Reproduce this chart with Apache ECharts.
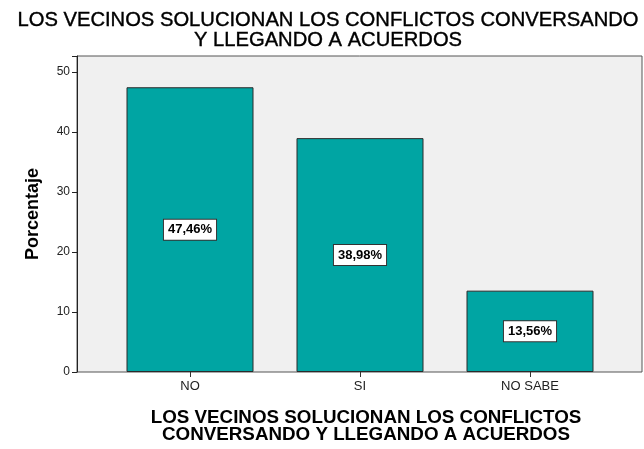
<!DOCTYPE html>
<html>
<head>
<meta charset="utf-8">
<script src="https://cdn.jsdelivr.net/npm/echarts@6/dist/echarts.min.js"></script>
<style>
  html, body { margin: 0; padding: 0; background: #fff; }
  #chart { width: 644px; height: 449px; }
</style>
</head>
<body>
<div id="chart"></div>
<script>
// categories and percentages
const categories = ['NO', 'SI', 'NO SABE']
const percentages = [47.46, 38.98, 13.56]
const yTicks = [0, 10, 20, 30, 40, 50]

const chartTitle = 'LOS VECINOS SOLUCIONAN LOS CONFLICTOS CONVERSANDO\nY LLEGANDO A ACUERDOS'
const xTitle = 'LOS VECINOS SOLUCIONAN LOS CONFLICTOS\nCONVERSANDO Y LLEGANDO A ACUERDOS'
const yTitle = 'Porcentaje'

const font = '"Liberation Sans", Arial, sans-serif'
const yMax = 52.67

const chart = echarts.init(document.getElementById('chart'))

chart.setOption({
  animation: false,
  title: [
    {
      text: chartTitle,
      left: 323,
      top: 5,
      textAlign: 'center',
      textStyle: { fontFamily: font, fontSize: 20.2, fontWeight: 'normal', color: '#000', lineHeight: 20, textBorderColor: '#000', textBorderWidth: 0.4 },
    },
    {
      text: xTitle,
      left: 361,
      top: 404,
      textAlign: 'center',
      textStyle: { fontFamily: font, fontSize: 18.8, fontWeight: 'bold', color: '#000', lineHeight: 17 },
    },
  ],
  grid: [
    // plot frame with background
    {
      left: 77, right: 2, top: 56, bottom: 77,
      show: true,
      backgroundColor: '#f0f0f0',
      borderColor: '#555',
      borderWidth: 1,
    },
    // bar area
    { left: 105, right: 29, top: 56, bottom: 77 },
  ],
  xAxis: [
    {
      gridIndex: 0,
      type: 'value',
      show: false,
    },
    {
      gridIndex: 1,
      type: 'category',
      data: categories,
      axisLine: { show: false },
      axisTick: { show: true, alignWithLabel: true, length: 5, lineStyle: { color: '#333' } },
      axisLabel: { fontFamily: font, fontSize: 13, color: '#222', margin: 8 },
    },
  ],
  yAxis: [
    {
      gridIndex: 0,
      type: 'value',
      min: 0,
      max: yMax,
      interval: 10,
      axisLine: { show: true, lineStyle: { color: '#222' } },
      axisTick: { show: true, length: 5, lineStyle: { color: '#222' } },
      axisLabel: {
        fontFamily: font, fontSize: 12, color: '#222', margin: 7,
        formatter: (v) => (yTicks.includes(v) ? String(v) : ''),
      },
      splitLine: { show: false },
      name: yTitle,
      nameLocation: 'middle',
      nameGap: 35,
      nameTextStyle: { fontFamily: font, fontSize: 18, fontWeight: 'bold', color: '#000' },
    },
    {
      gridIndex: 1,
      type: 'value',
      min: 0,
      max: yMax,
      show: false,
    },
  ],
  series: [
    {
      type: 'bar',
      xAxisIndex: 1,
      yAxisIndex: 1,
      data: percentages,
      barWidth: 127,
      itemStyle: { color: '#00a5a3', borderColor: '#2a2a2a', borderWidth: 1 },
      label: {
        show: true,
        position: 'inside',
        formatter: (p) => p.value.toFixed(2).replace('.', ',') + '%',
        fontFamily: font,
        fontSize: 13,
        fontWeight: 'bold',
        color: '#000',
        backgroundColor: '#fff',
        borderColor: '#333',
        borderWidth: 1,
        padding: [4, 4, 3, 4],
      },
    },
  ],
})
</script>
</body>
</html>
